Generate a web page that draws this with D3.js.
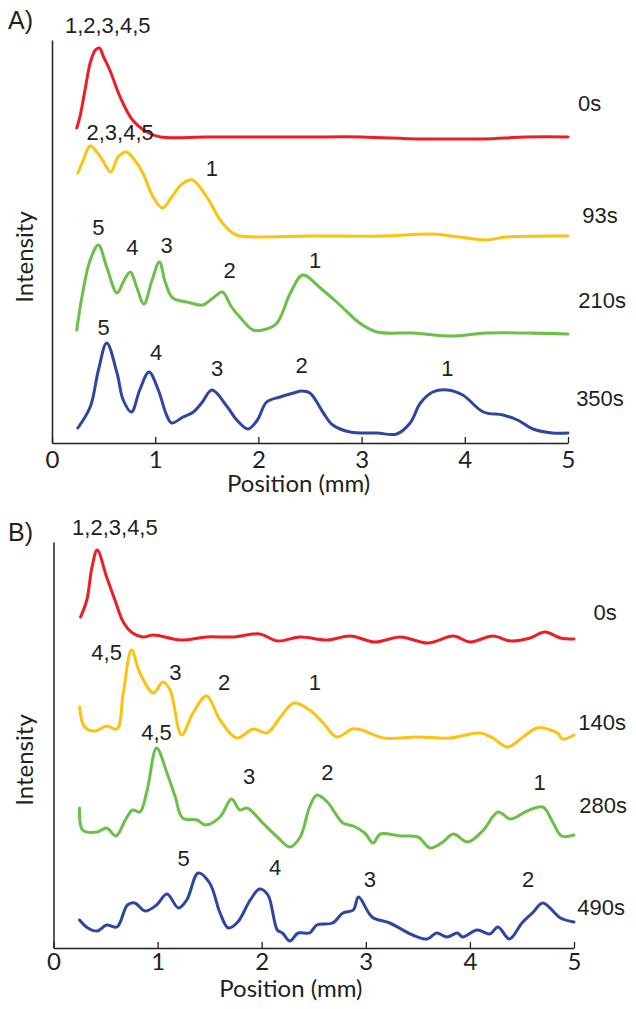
<!DOCTYPE html>
<html><head><meta charset="utf-8">
<script src="https://cdn.jsdelivr.net/npm/d3@7"></script>
<style>body{margin:0;background:#fff}svg{display:block}</style>
</head><body><svg id="c" width="636" height="1009"></svg>
<script>
// ---------- DATA ----------
const positionTicks = [0, 1, 2, 3, 4, 5];
const seriesColors = ["#ee1d23", "#fdc20f", "#6cbf47", "#2e46a1"];

// Panel A traces: [position (mm), intensity (a.u., stacked)]
const a0s = [[0.24,315],[0.27,326],[0.32,353],[0.37,380],[0.42,393],[0.46,395],[0.50,386],[0.56,373],[0.66,346],[0.78,323],[0.92,311],[1.05,306],[1.5,306],[2.0,306],[2.5,306],[3.0,306],[3.54,304],[3.81,304],[4.18,304],[4.6,306],[5.0,306]];
const a93s = [[0.25,270],[0.30,282],[0.37,297],[0.47,286],[0.57,271],[0.64,286],[0.72,291],[0.80,283],[0.88,270],[0.98,246],[1.07,235],[1.16,246],[1.26,259],[1.36,263],[1.50,246],[1.63,223],[1.75,210],[1.82,207],[2.5,207],[3.2,207],[3.68,209],[3.95,206],[4.20,203],[4.4,206],[5.0,207]];
const a210s = [[0.24,113],[0.29,146],[0.37,183],[0.45,198],[0.53,176],[0.63,150],[0.70,163],[0.76,171],[0.82,156],[0.89,139],[0.97,163],[1.04,181],[1.10,160],[1.17,145],[1.31,141],[1.46,138],[1.56,145],[1.65,151],[1.74,136],[1.82,126],[1.95,113],[2.08,114],[2.18,120],[2.31,150],[2.43,168],[2.60,155],[2.79,138],[2.98,120],[3.15,111],[3.5,110],[3.88,107],[4.2,110],[4.6,110],[5.0,109]];
const a350s = [[0.25,15],[0.37,36],[0.45,73],[0.53,100],[0.63,70],[0.69,43],[0.77,31],[0.85,53],[0.94,71],[1.03,53],[1.11,28],[1.16,20],[1.27,26],[1.37,31],[1.45,40],[1.55,53],[1.70,36],[1.79,23],[1.90,14],[1.99,23],[2.08,41],[2.21,46],[2.34,50],[2.42,52],[2.50,50],[2.63,30],[2.72,18],[2.89,11],[3.15,10],[3.34,9],[3.47,20],[3.57,40],[3.69,51],[3.83,53],[3.98,48],[4.18,31],[4.37,28],[4.51,23],[4.66,14],[4.85,10],[5.0,10]];

// Panel B traces
const b0s = [[0.26,331],[0.32,348],[0.37,381],[0.42,398],[0.51,371],[0.59,348],[0.67,326],[0.76,315],[0.86,311],[0.96,313],[1.22,308],[1.47,311],[1.72,311],[1.98,314],[2.15,307],[2.37,311],[2.63,308],[2.85,312],[3.09,306],[3.33,311],[3.60,305],[3.84,312],[4.00,306],[4.22,312],[4.39,307],[4.58,310],[4.72,316],[4.87,310],[5.0,309]];
const b140s = [[0.25,241],[0.30,221],[0.40,217],[0.51,222],[0.61,219],[0.67,255],[0.75,298],[0.83,275],[0.96,255],[1.05,266],[1.12,258],[1.23,213],[1.34,235],[1.47,252],[1.60,228],[1.76,210],[1.92,219],[2.05,215],[2.18,231],[2.31,245],[2.46,238],[2.59,225],[2.72,211],[2.87,219],[2.96,218],[3.17,210],[3.49,211],[3.81,210],[4.10,215],[4.22,210],[4.36,201],[4.51,211],[4.65,220],[4.84,215],[4.89,209],[5.0,213]];
const b280s = [[0.25,140],[0.28,118],[0.42,116],[0.51,120],[0.60,112],[0.69,128],[0.76,138],[0.83,136],[0.90,158],[0.99,200],[1.09,175],[1.17,151],[1.24,130],[1.38,128],[1.46,123],[1.60,131],[1.71,149],[1.79,138],[1.86,140],[2.01,125],[2.15,111],[2.27,101],[2.37,111],[2.46,141],[2.53,153],[2.63,146],[2.78,125],[2.88,122],[2.99,115],[3.07,105],[3.14,114],[3.33,112],[3.50,111],[3.62,100],[3.74,106],[3.84,114],[3.98,106],[4.13,118],[4.27,136],[4.39,129],[4.55,137],[4.70,141],[4.80,125],[4.88,112],[5.0,113]];
const b490s = [[0.25,28],[0.33,20],[0.42,17],[0.51,23],[0.61,21],[0.71,43],[0.78,45],[0.88,37],[0.99,43],[1.09,54],[1.20,40],[1.28,48],[1.39,75],[1.50,65],[1.60,35],[1.68,20],[1.77,26],[1.89,48],[1.98,59],[2.06,53],[2.15,18],[2.20,15],[2.27,7],[2.35,15],[2.46,15],[2.53,23],[2.68,25],[2.78,35],[2.88,38],[2.93,51],[3.06,31],[3.23,25],[3.45,13],[3.59,9],[3.68,15],[3.78,11],[3.88,15],[3.93,11],[4.07,18],[4.19,14],[4.27,21],[4.38,9],[4.50,25],[4.61,36],[4.70,45],[4.87,30],[5.0,26]];

// Peak labels [text, position, intensity]
const peaksA = [["1,2,3,4,5",0.54,418],["2,3,4,5",0.66,311],["1",1.55,275],["5",0.45,216],["4",0.78,196],["3",1.11,198],["2",1.72,173],["1",2.55,183],["5",0.50,116],["4",1.01,91],["3",1.60,75],["2",2.42,78],["1",3.83,75]];
const peaksB = [["1,2,3,4,5",0.59,421],["4,5",0.51,296],["3",1.17,276],["2",1.64,266],["1",2.51,266],["4,5",0.99,216],["3",1.88,172],["2",2.63,176],["1",4.67,166],["5",1.25,90],["4",2.13,81],["3",3.04,69],["2",4.56,69]];
// Time labels [text, position, intensity]
const timesA = [["0s",5.21,340],["93s",5.31,228],["210s",5.33,143],["350s",5.31,45]];
const timesB = [["0s",5.30,336],["140s",5.27,226],["280s",5.28,143],["490s",5.26,41]];

// ---------- DRAW ----------
const svg = d3.select("#c");
svg.append("rect").attr("width",636).attr("height",1009).attr("fill","#fff");

function panel(cfg){
  const x = d3.scaleLinear().domain([0,5]).range([cfg.x0, cfg.x1]);
  const y = d3.scaleLinear().domain([0, cfg.ymax]).range([cfg.yBottom, cfg.yTop]);
  const g = svg.append("g");

  // axes
  const xa = g.append("g").attr("transform",`translate(0,${cfg.yBottom})`)
    .call(d3.axisBottom(x).tickValues(positionTicks).tickFormat(d3.format("d"))
      .tickSizeInner(-6).tickSizeOuter(0).tickPadding(cfg.pad));
  xa.select(".domain").attr("stroke","#231f20").attr("stroke-width",1.5);
  xa.selectAll(".tick line").attr("stroke","#231f20").attr("stroke-width",1.3);
  xa.selectAll(".tick text").attr("font-family","Lato, sans-serif").attr("font-size",24).attr("fill","#231f20");
  const ya = g.append("g").attr("transform",`translate(${cfg.x0},0)`)
    .call(d3.axisLeft(y).tickValues([]).tickSizeOuter(0));
  ya.select(".domain").attr("stroke","#231f20").attr("stroke-width",1.5);

  g.append("text").attr("x", x(cfg.xLabelPos)).attr("y", cfg.xLabelY)
    .attr("text-anchor","middle").attr("font-family","Lato, sans-serif").attr("font-size",24)
    .attr("fill","#231f20").text("Position (mm)");
  g.append("text").attr("transform",`translate(${cfg.yLabelX},${y(cfg.yLabelV)}) rotate(-90)`)
    .attr("text-anchor","middle").attr("font-family","Lato, sans-serif").attr("font-size",24)
    .attr("fill","#231f20").text("Intensity");
  g.append("text").attr("x",8).attr("y",cfg.tagY).attr("font-family","Liberation Sans, Arial, sans-serif")
    .attr("font-size",25).attr("fill","#231f20").text(cfg.tag);

  const line = d3.line().x(d=>x(d[0])).y(d=>y(d[1])).curve(d3.curveCatmullRom.alpha(0.5));
  cfg.series.forEach((s,i)=>{
    g.append("path").datum(s).attr("d",line).attr("fill","none")
      .attr("stroke",seriesColors[i]).attr("stroke-width",3).attr("stroke-linejoin","round").attr("stroke-linecap","round");
  });
  cfg.peaks.concat(cfg.times).forEach(p=>{
    g.append("text").attr("x",x(p[1])).attr("y",y(p[2])).attr("dy","0.36em")
      .attr("text-anchor","middle").attr("font-family","Liberation Sans, Arial, sans-serif")
      .attr("font-size",22).attr("fill","#231f20").text(p[0]);
  });
}

panel({x0:52, x1:568, yBottom:443, yTop:40, ymax:403, pad:8, xLabelPos:2.39, xLabelY:492,
  yLabelX:33, yLabelV:186, tag:"A)", tagY:29,
  series:[a0s,a93s,a210s,a350s], peaks:peaksA, times:timesA});
panel({x0:53.5, x1:574, yBottom:948, yTop:542, ymax:406, pad:5, xLabelPos:2.28, xLabelY:997,
  yLabelX:33, yLabelV:188, tag:"B)", tagY:541,
  series:[b0s,b140s,b280s,b490s], peaks:peaksB, times:timesB});
</script></body></html>
